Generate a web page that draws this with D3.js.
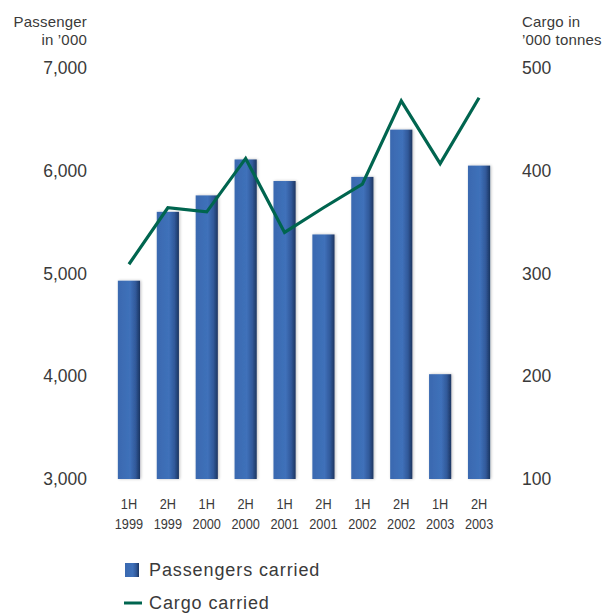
<!DOCTYPE html>
<html>
<head>
<meta charset="utf-8">
<script src="https://cdn.jsdelivr.net/npm/d3@7"></script>
<style>
  html, body { margin: 0; padding: 0; background: #fff; }
  svg { display: block; font-family: "Liberation Sans", Arial, sans-serif; }
</style>
</head>
<body>
<svg id="chart" width="606" height="613"></svg>
<script>
// Half-year periods
const periods = ["1H", "2H", "1H", "2H", "1H", "2H", "1H", "2H", "1H", "2H"];
const years = ["1999", "1999", "2000", "2000", "2001", "2001", "2002", "2002", "2003", "2003"];
// Passengers carried, thousands
const passengers = [4930, 5600, 5760, 6110, 5900, 5380, 5940, 6400, 4020, 6050];
// Cargo carried, thousand tonnes
const cargo = [309, 364, 360, 412, 340, 364, 387, 468, 407, 471];
// Axis ticks
const leftTicks = [3000, 4000, 5000, 6000, 7000];
const rightTicks = [100, 200, 300, 400, 500];

const keys = periods.map((p, i) => p + " " + years[i]);

const svg = d3.select("#chart");
const textColor = "#3a3a3a";
const lineColor = "#00654f";

const x = d3.scaleBand().domain(keys).range([109.5, 498.5])
  .paddingInner(0.43).paddingOuter(0.215);
const yL = d3.scaleLinear().domain([3000, 7000]).range([479, 68]);
const yR = d3.scaleLinear().domain([100, 500]).range([479, 68]);

// Bar gradient: lit left face fading to a dark right edge
const defs = svg.append("defs");
const grad = defs.append("linearGradient").attr("id", "barGrad")
  .attr("x1", "0%").attr("x2", "100%").attr("y1", "0%").attr("y2", "0%");
grad.append("stop").attr("offset", "0%").attr("stop-color", "#3a69b0");
grad.append("stop").attr("offset", "55%").attr("stop-color", "#3f71ba");
grad.append("stop").attr("offset", "80%").attr("stop-color", "#31599a");
grad.append("stop").attr("offset", "100%").attr("stop-color", "#1c3560");

const shadow = defs.append("filter").attr("id", "soft")
  .attr("x", "-30%").attr("y", "-10%").attr("width", "160%").attr("height", "120%");
shadow.append("feGaussianBlur").attr("in", "SourceAlpha").attr("stdDeviation", 1.5).attr("result", "b");
shadow.append("feOffset").attr("in", "b").attr("dx", 1).attr("dy", 0).attr("result", "o");
shadow.append("feComponentTransfer").attr("in", "o").attr("result", "s")
  .append("feFuncA").attr("type", "linear").attr("slope", 0.25);
const merge = shadow.append("feMerge");
merge.append("feMergeNode").attr("in", "s");
merge.append("feMergeNode").attr("in", "SourceGraphic");

// Bars
svg.append("g").selectAll("rect").data(passengers).join("rect")
  .attr("x", (d, i) => x(keys[i]))
  .attr("y", d => yL(d))
  .attr("width", x.bandwidth())
  .attr("height", d => yL(3000) - yL(d))
  .attr("fill", "url(#barGrad)")
  .attr("filter", "url(#soft)");

// Cargo line
const line = d3.line()
  .x((d, i) => x(keys[i]) + x.bandwidth() / 2)
  .y(d => yR(d));
svg.append("path").datum(cargo)
  .attr("d", line)
  .attr("fill", "none")
  .attr("stroke", lineColor)
  .attr("stroke-width", 3.2)
  .attr("stroke-linejoin", "miter");

// Left axis
const leftAxis = d3.axisLeft(yL).tickValues(leftTicks).tickFormat(d3.format(",")).tickSize(0).tickPadding(0);
const gl = svg.append("g").attr("transform", "translate(87,0)").call(leftAxis);
gl.select(".domain").remove();
gl.selectAll("text").attr("font-size", 17.5).attr("fill", textColor)
  .attr("font-family", "'Liberation Sans', Arial, sans-serif");

// Right axis
const rightAxis = d3.axisRight(yR).tickValues(rightTicks).tickSize(0).tickPadding(0);
const gr = svg.append("g").attr("transform", "translate(522,0)").call(rightAxis);
gr.select(".domain").remove();
gr.selectAll("text").attr("font-size", 17.5).attr("fill", textColor)
  .attr("font-family", "'Liberation Sans', Arial, sans-serif");

// Axis titles
const titleL = svg.append("text").attr("text-anchor", "end").attr("font-size", 15)
  .attr("letter-spacing", 0.2).attr("fill", textColor);
titleL.append("tspan").attr("x", 87).attr("y", 27).text("Passenger");
titleL.append("tspan").attr("x", 87).attr("y", 45).text("in \u2019000");
const titleR = svg.append("text").attr("text-anchor", "start").attr("font-size", 15)
  .attr("letter-spacing", 0.2).attr("fill", textColor);
titleR.append("tspan").attr("x", 522).attr("y", 27).text("Cargo in");
titleR.append("tspan").attr("x", 522).attr("y", 45).text("\u2019000 tonnes");

// Category labels (slightly condensed)
const xl = svg.append("g").selectAll("text").data(keys).join("text")
  .attr("text-anchor", "middle")
  .attr("font-size", 14.5)
  .attr("fill", textColor)
  .attr("transform", d => `translate(${x(d) + x.bandwidth() / 2},0) scale(0.88,1)`);
xl.append("tspan").attr("x", 0).attr("y", 509).text((d, i) => periods[i]);
xl.append("tspan").attr("x", 0).attr("y", 529).text((d, i) => years[i]);

// Legend
const legend = svg.append("g");
legend.append("rect").attr("x", 125).attr("y", 563).attr("width", 14).attr("height", 14)
  .attr("fill", "url(#barGrad)");
legend.append("text").attr("x", 149).attr("y", 576).attr("font-size", 18)
  .attr("letter-spacing", 0.9).attr("fill", textColor)
  .text("Passengers carried");
legend.append("line").attr("x1", 124).attr("x2", 142).attr("y1", 603).attr("y2", 603)
  .attr("stroke", lineColor).attr("stroke-width", 3);
legend.append("text").attr("x", 149).attr("y", 609).attr("font-size", 18)
  .attr("letter-spacing", 0.9).attr("fill", textColor)
  .text("Cargo carried");
</script>
</body>
</html>
